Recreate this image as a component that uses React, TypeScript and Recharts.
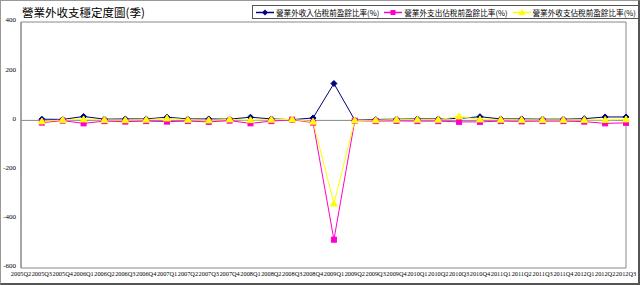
import React from 'react';
import {
  LineChart,
  Line,
  XAxis,
  YAxis,
  ReferenceLine,
  ReferenceArea,
} from 'recharts';

const quarters = [
  '2005Q2', '2005Q3', '2005Q4', '2006Q1', '2006Q2', '2006Q3', '2006Q4',
  '2007Q1', '2007Q2', '2007Q3', '2007Q4', '2008Q1', '2008Q2', '2008Q3', '2008Q4',
  '2009Q1', '2009Q2', '2009Q3', '2009Q4', '2010Q1', '2010Q2', '2010Q3', '2010Q4',
  '2011Q1', '2011Q2', '2011Q3', '2011Q4', '2012Q1', '2012Q2', '2012Q3',
];

const incomeRatio = [
  null, 5, 4, 16, 5, 6, 6, 13, 6, 6, 5, 13, 6, 3, 10,
  150, 1, 4, 5, 6, 6, 8, 15, 6, 6, 5, 5, 7, 14, 14,
];
const expenseRatio = [
  null, -9, -1, -12, -3, -5, -3, -5, -3, -6, -1, -12, -3, 3, -9,
  -485, -1, -3, -2, -3, -3, -6, -6, -3, -4, -3, -3, -5, -12, -10,
];
const netRatio = [
  null, -4, 2, 4, 2, 1, 3, 8, 3, 0, 4, 1, 3, 4, -5,
  -338, 0, 1, 3, 3, 3, 16, 4, 3, 2, 2, 2, 2, 2, 4,
];

const yTicks = [-600, -400, -200, 0, 200, 400];

const seriesNames = [
  '營業外收入佔稅前盈餘比率(%)',
  '營業外支出佔稅前盈餘比率(%)',
  '營業外收支佔稅前盈餘比率(%)',
];

const data = quarters.map((q, i) => ({
  q,
  income: incomeRatio[i],
  expense: expenseRatio[i],
  net: netRatio[i],
}));

const NAVY = '#000080';
const MAGENTA = '#ff00cc';
const YELLOW = '#ffff00';

const Diamond = (props: any) => {
  const { cx, cy, key } = props;
  if (cx == null || cy == null || props.value == null) return <g key={key} />;
  const s = 3;
  return (
    <polygon key={key} points={`${cx},${cy - s} ${cx + s},${cy} ${cx},${cy + s} ${cx - s},${cy}`} fill={NAVY} stroke={NAVY} />
  );
};

const Square = (props: any) => {
  const { cx, cy, key } = props;
  if (cx == null || cy == null || props.value == null) return <g key={key} />;
  return <rect key={key} x={cx - 2.5} y={cy - 2.5} width={5} height={5} fill={MAGENTA} stroke={MAGENTA} />;
};

const Triangle = (props: any) => {
  const { cx, cy, key } = props;
  if (cx == null || cy == null || props.value == null) return <g key={key} />;
  return (
    <polygon key={key} points={`${cx},${cy - 3.5} ${cx + 3.5},${cy + 2.5} ${cx - 3.5},${cy + 2.5}`} fill={YELLOW} stroke={YELLOW} />
  );
};

const LegendMarker = ({ i }: { i: number }) => {
  const color = [NAVY, MAGENTA, YELLOW][i];
  return (
    <svg width={18} height={9} style={{ display: 'block' }}>
      <line x1={0} y1={4.5} x2={18} y2={4.5} stroke={color} strokeWidth={1.5} />
      {i === 0 && <polygon points="9,1.5 12,4.5 9,7.5 6,4.5" fill={color} />}
      {i === 1 && <rect x={6.5} y={2} width={5} height={5} fill={color} />}
      {i === 2 && <polygon points="9,1 12.5,7 5.5,7" fill={color} />}
    </svg>
  );
};

const LegendBox = () => (
  <div
    style={{
      position: 'absolute',
      left: 251,
      top: 4,
      display: 'flex',
      alignItems: 'center',
      border: '1px solid #555',
      background: '#fff',
      padding: '0 3px',
      height: 12,
      fontFamily: '"Noto Sans CJK TC", sans-serif',
      fontSize: 7.6,
      color: '#000',
      whiteSpace: 'nowrap',
    }}
  >
    {seriesNames.map((name, i) => (
      <div key={name} style={{ display: 'flex', alignItems: 'center', marginRight: i < 2 ? 5 : 0 }}>
        <LegendMarker i={i} />
        <span style={{ marginLeft: 2 }}>{name}</span>
      </div>
    ))}
  </div>
);

export default function App() {
  return (
    <div
      style={{
        position: 'absolute',
        left: 0,
        top: 0,
        width: 640,
        height: 285,
        boxSizing: 'border-box',
        border: '1px solid #999',
        borderRight: '2px solid #555',
        borderBottom: '2px solid #555',
        background: '#fff',
        overflow: 'hidden',
      }}
    >
      <div
        style={{
          position: 'absolute',
          left: 21,
          top: 3,
          fontFamily: '"Noto Sans CJK TC", sans-serif',
          fontSize: 11.5,
          color: '#000',
        }}
      >
        營業外收支穩定度圖(季)
      </div>
      <LineChart
        width={637}
        height={283}
        data={data}
        margin={{ top: 21, right: 12, left: 0, bottom: 0 }}
        style={{ position: 'absolute', left: 0, top: 0 }}
      >
        <XAxis
          dataKey="q"
          interval={0}
          axisLine={false}
          tickLine={false}
          height={16}
          tick={{ fontSize: 6.3, fill: '#000', fontFamily: '"Liberation Serif", serif', dy: 1 }}
          tickMargin={0}
          tickSize={3}
        />
        <YAxis
          domain={[-600, 400]}
          ticks={yTicks}
          width={20}
          axisLine={{ stroke: '#888' }}
          tickLine={false}
          tickSize={3}
          tickMargin={2}
          tick={{ fontSize: 7, fill: '#000', fontFamily: '"Liberation Serif", serif', dy: -2 }}
        />
        <ReferenceArea x1="2005Q2" x2="2012Q3" y1={-600} y2={400} fill="none" stroke="#888" strokeWidth={1} />
        <ReferenceLine y={0} stroke="#888" strokeWidth={1} />
        <Line
          dataKey="income"
          name={seriesNames[0]}
          stroke={NAVY}
          strokeWidth={1}
          dot={Diamond}
          activeDot={false}
          isAnimationActive={false}
        />
        <Line
          dataKey="expense"
          name={seriesNames[1]}
          stroke={MAGENTA}
          strokeWidth={1}
          dot={Square}
          activeDot={false}
          isAnimationActive={false}
        />
        <Line
          dataKey="net"
          name={seriesNames[2]}
          stroke={YELLOW}
          strokeWidth={1}
          dot={Triangle}
          activeDot={false}
          isAnimationActive={false}
        />
      </LineChart>
      <LegendBox />
    </div>
  );
}
